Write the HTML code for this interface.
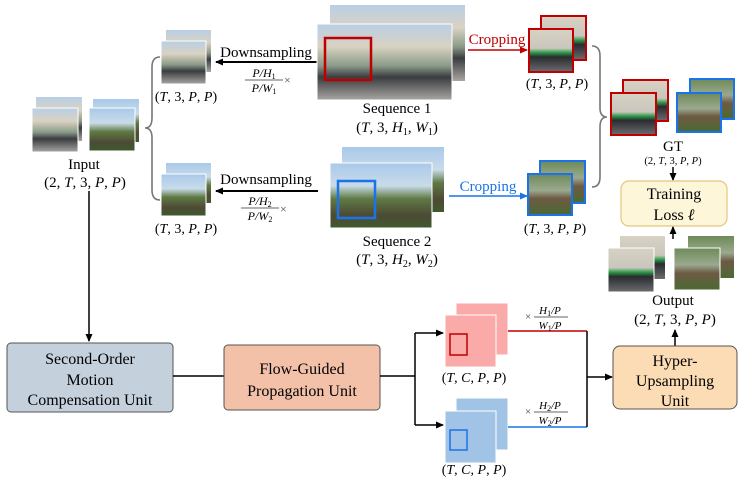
<!DOCTYPE html>
<html><head><meta charset="utf-8"><style>
body{margin:0;background:#fff}
svg{display:block;font-family:"Liberation Serif",serif}
.m{font-style:italic}
</style></head><body>
<svg width="747" height="490" viewBox="0 0 747 490" xmlns="http://www.w3.org/2000/svg">
<defs>
<linearGradient id="c" x1="0" y1="0" x2="0" y2="1">
<stop offset="0" stop-color="#b9cfe6"/><stop offset=".3" stop-color="#d9d2c2"/><stop offset=".55" stop-color="#8a9a88"/><stop offset=".7" stop-color="#3a3c40"/><stop offset="1" stop-color="#a9a6a2"/></linearGradient>
<linearGradient id="n" x1="0" y1="0" x2="0" y2="1">
<stop offset="0" stop-color="#a9c9ea"/><stop offset=".35" stop-color="#c9dbe9"/><stop offset=".55" stop-color="#5f7a45"/><stop offset=".8" stop-color="#4d4a35"/><stop offset="1" stop-color="#3f5a2e"/></linearGradient>
<linearGradient id="cc" x1="0" y1="0" x2="0" y2="1">
<stop offset="0" stop-color="#d8d2c4"/><stop offset=".45" stop-color="#c9c6bd"/><stop offset=".55" stop-color="#2c9a48"/><stop offset=".65" stop-color="#2a2c30"/><stop offset="1" stop-color="#6b6c6e"/></linearGradient>
<linearGradient id="nc" x1="0" y1="0" x2="0" y2="1">
<stop offset="0" stop-color="#6e8a58"/><stop offset=".4" stop-color="#9aa98f"/><stop offset=".6" stop-color="#6e5a44"/><stop offset="1" stop-color="#4a6a32"/></linearGradient>
<marker id="a" markerWidth="8" markerHeight="8" refX="7" refY="4" orient="auto" markerUnits="userSpaceOnUse"><path d="M0,0.5 L8,4 L0,7.5z" fill="#000"/></marker>
<marker id="ar" markerWidth="8" markerHeight="8" refX="7" refY="4" orient="auto" markerUnits="userSpaceOnUse"><path d="M0,0.5 L8,4 L0,7.5z" fill="#c00000"/></marker>
<marker id="ab" markerWidth="8" markerHeight="8" refX="7" refY="4" orient="auto" markerUnits="userSpaceOnUse"><path d="M0,0.5 L8,4 L0,7.5z" fill="#1a73e8"/></marker>
</defs>

<rect x="36" y="97" width="46" height="44" fill="url(#c)"/>
<rect x="32" y="108" width="46" height="44" fill="url(#c)" stroke="#fff"/>
<rect x="93" y="99" width="46" height="43" fill="url(#n)"/>
<rect x="89" y="108" width="46" height="43" fill="url(#n)" stroke="#fff"/>
<text x="84" y="169" font-size="15" text-anchor="middle">Input</text>
<text x="85" y="187" font-size="15" text-anchor="middle">(2, <tspan class="m">T</tspan>, 3, <tspan class="m">P</tspan>, <tspan class="m">P</tspan>)</text>
<line x1="89" y1="191" x2="89" y2="341" stroke="#000" stroke-width="1.5" marker-end="url(#a)"/>

<path d="M160,57 Q152,57 152,67 L152,118 Q152,128 145,128 Q152,128 152,138 L152,190 Q152,200 160,200" fill="none" stroke="#777" stroke-width="1.6"/>

<rect x="166" y="30" width="45" height="42" fill="url(#c)"/>
<rect x="161" y="41" width="45" height="43" fill="url(#c)" stroke="#fff"/>
<text x="186" y="101" font-size="14" text-anchor="middle">(<tspan class="m">T</tspan>, 3, <tspan class="m">P</tspan>, <tspan class="m">P</tspan>)</text>
<rect x="166" y="163" width="45" height="40" fill="url(#n)"/>
<rect x="161" y="174" width="45" height="42" fill="url(#n)" stroke="#fff"/>
<text x="186" y="233" font-size="14" text-anchor="middle">(<tspan class="m">T</tspan>, 3, <tspan class="m">P</tspan>, <tspan class="m">P</tspan>)</text>

<text x="266" y="57" font-size="15" text-anchor="middle">Downsampling</text>
<line x1="317" y1="62" x2="216" y2="62" stroke="#000" stroke-width="2" marker-end="url(#a)"/>
<text x="264" y="77" font-size="12" text-anchor="middle" class="m">P/H<tspan font-size="8" font-style="normal" dy="2">1</tspan></text>
<line x1="245" y1="80" x2="283" y2="80" stroke="#333" stroke-width=".7"/>
<text x="264" y="92" font-size="12" text-anchor="middle" class="m">P/W<tspan font-size="8" font-style="normal" dy="2">1</tspan></text>
<text x="284" y="84" font-size="12" fill="#444">×</text>
<text x="266" y="184" font-size="15" text-anchor="middle">Downsampling</text>
<line x1="318" y1="191" x2="216" y2="191" stroke="#000" stroke-width="2" marker-end="url(#a)"/>
<text x="260" y="205" font-size="12" text-anchor="middle" class="m">P/H<tspan font-size="8" font-style="normal" dy="2">2</tspan></text>
<line x1="241" y1="208" x2="279" y2="208" stroke="#333" stroke-width=".7"/>
<text x="260" y="220" font-size="12" text-anchor="middle" class="m">P/W<tspan font-size="8" font-style="normal" dy="2">2</tspan></text>
<text x="280" y="213" font-size="12" fill="#444">×</text>

<rect x="330" y="5" width="135" height="76" fill="url(#c)"/>
<rect x="317" y="24" width="135" height="76" fill="url(#c)" stroke="#fff"/>
<rect x="325" y="38" width="46" height="42" fill="none" stroke="#c00000" stroke-width="2.5"/>
<text x="397" y="113" font-size="15" text-anchor="middle">Sequence 1</text>
<text x="397" y="132" font-size="15" text-anchor="middle">(<tspan class="m">T</tspan>, 3, <tspan class="m">H</tspan><tspan font-size="10" dy="3">1</tspan><tspan dy="-3">, </tspan><tspan class="m">W</tspan><tspan font-size="10" dy="3">1</tspan><tspan dy="-3">)</tspan></text>
<rect x="342" y="147" width="102" height="65" fill="url(#n)"/>
<rect x="330" y="163" width="102" height="65" fill="url(#n)" stroke="#fff"/>
<rect x="338" y="181" width="37" height="37" fill="none" stroke="#1a73e8" stroke-width="2.5"/>
<text x="397" y="246" font-size="15" text-anchor="middle">Sequence 2</text>
<text x="397" y="264" font-size="15" text-anchor="middle">(<tspan class="m">T</tspan>, 3, <tspan class="m">H</tspan><tspan font-size="10" dy="3">2</tspan><tspan dy="-3">, </tspan><tspan class="m">W</tspan><tspan font-size="10" dy="3">2</tspan><tspan dy="-3">)</tspan></text>

<text x="497" y="44" font-size="15" text-anchor="middle" fill="#c00000">Cropping</text>
<line x1="468" y1="50" x2="527" y2="50" stroke="#c00000" stroke-width="1.5" marker-end="url(#ar)"/>
<text x="488" y="191" font-size="15" text-anchor="middle" fill="#1a73e8">Cropping</text>
<line x1="449" y1="196" x2="527" y2="196" stroke="#1a73e8" stroke-width="1.5" marker-end="url(#ab)"/>
<rect x="541" y="16" width="45" height="44" fill="url(#cc)" stroke="#c00000" stroke-width="2"/>
<rect x="529" y="29" width="44" height="43" fill="url(#cc)" stroke="#c00000" stroke-width="2"/>
<text x="557" y="88" font-size="14" text-anchor="middle">(<tspan class="m">T</tspan>, 3, <tspan class="m">P</tspan>, <tspan class="m">P</tspan>)</text>
<rect x="540" y="161" width="45" height="42" fill="url(#nc)" stroke="#1a73e8" stroke-width="2"/>
<rect x="528" y="174" width="44" height="41" fill="url(#nc)" stroke="#1a73e8" stroke-width="2"/>
<text x="555" y="233" font-size="14" text-anchor="middle">(<tspan class="m">T</tspan>, 3, <tspan class="m">P</tspan>, <tspan class="m">P</tspan>)</text>

<path d="M592,46 Q600,46 600,56 L600,108 Q600,117 607,117 Q600,117 600,127 L600,177 Q600,187 592,187" fill="none" stroke="#777" stroke-width="1.6"/>

<rect x="623" y="80" width="45" height="41" fill="url(#cc)" stroke="#c00000" stroke-width="2"/>
<rect x="611" y="93" width="45" height="42" fill="url(#cc)" stroke="#c00000" stroke-width="2"/>
<rect x="690" y="79" width="44" height="40" fill="url(#nc)" stroke="#1a73e8" stroke-width="2"/>
<rect x="677" y="93" width="44" height="39" fill="url(#nc)" stroke="#1a73e8" stroke-width="2"/>
<text x="673" y="151" font-size="15" text-anchor="middle">GT</text>
<text x="673" y="164" font-size="10.5" text-anchor="middle">(2, <tspan class="m">T</tspan>, 3, <tspan class="m">P</tspan>, <tspan class="m">P</tspan>)</text>
<line x1="673" y1="167" x2="673" y2="180" stroke="#000" stroke-width="1.5" marker-end="url(#a)"/>
<rect x="621" y="181" width="106" height="45" rx="8" fill="#fdf6d8" stroke="#e2c77c" stroke-width="1.2"/>
<text x="674" y="199" font-size="16" text-anchor="middle">Training</text>
<text x="674" y="220" font-size="16" text-anchor="middle">Loss <tspan class="m">ℓ</tspan></text>
<line x1="673" y1="239" x2="673" y2="227" stroke="#000" stroke-width="1.5" marker-end="url(#a)"/>

<rect x="620" y="236" width="45" height="43" fill="url(#cc)"/>
<rect x="608" y="248" width="46" height="44" fill="url(#cc)" stroke="#fff"/>
<rect x="688" y="236" width="46" height="42" fill="url(#nc)"/>
<rect x="674" y="248" width="46" height="42" fill="url(#nc)" stroke="#fff"/>
<text x="673" y="305" font-size="15" text-anchor="middle">Output</text>
<text x="675" y="324" font-size="15" text-anchor="middle">(2, <tspan class="m">T</tspan>, 3, <tspan class="m">P</tspan>, <tspan class="m">P</tspan>)</text>
<line x1="675" y1="346" x2="675" y2="330" stroke="#000" stroke-width="1.5" marker-end="url(#a)"/>

<rect x="7" y="343" width="166" height="69" rx="4" fill="#c5d0dd" stroke="#555" stroke-width="1"/>
<text x="90" y="364" font-size="16" text-anchor="middle">Second-Order</text>
<text x="90" y="385" font-size="16" text-anchor="middle">Motion</text>
<text x="90" y="405" font-size="16" text-anchor="middle">Compensation Unit</text>
<line x1="173" y1="376" x2="224" y2="376" stroke="#000" stroke-width="1.5"/>
<rect x="224" y="345" width="156" height="65" rx="4" fill="#f3c0a8" stroke="#555" stroke-width="1"/>
<text x="302" y="374" font-size="16" text-anchor="middle">Flow-Guided</text>
<text x="302" y="396" font-size="16" text-anchor="middle">Propagation Unit</text>
<path d="M380,376 H415 M415,333 V425" stroke="#000" stroke-width="1.5" fill="none"/>
<line x1="415" y1="333" x2="443" y2="333" stroke="#000" stroke-width="1.5" marker-end="url(#a)"/>
<line x1="415" y1="425" x2="443" y2="425" stroke="#000" stroke-width="1.5" marker-end="url(#a)"/>

<rect x="456" y="303" width="52" height="52" fill="#fbaaaa" stroke="#fff"/>
<rect x="445" y="315" width="51" height="52" fill="#fbaaaa" stroke="#fff"/>
<rect x="450" y="334" width="17" height="21" fill="none" stroke="#c00000" stroke-width="1.5"/>
<text x="474" y="382" font-size="14" text-anchor="middle">(<tspan class="m">T</tspan>, <tspan class="m">C</tspan>, <tspan class="m">P</tspan>, <tspan class="m">P</tspan>)</text>
<rect x="456" y="398" width="52" height="52" fill="#a0c3e6" stroke="#fff"/>
<rect x="445" y="411" width="51" height="52" fill="#a0c3e6" stroke="#fff"/>
<rect x="450" y="430" width="17" height="20" fill="none" stroke="#1a73e8" stroke-width="1.5"/>
<text x="474" y="474" font-size="14" text-anchor="middle">(<tspan class="m">T</tspan>, <tspan class="m">C</tspan>, <tspan class="m">P</tspan>, <tspan class="m">P</tspan>)</text>

<line x1="508" y1="331" x2="587" y2="331" stroke="#c00000" stroke-width="1.5"/>
<line x1="508" y1="427" x2="587" y2="427" stroke="#1a73e8" stroke-width="1.5"/>
<line x1="587" y1="331" x2="587" y2="427" stroke="#000" stroke-width="1.5"/>
<line x1="587" y1="377" x2="612" y2="377" stroke="#000" stroke-width="1.5" marker-end="url(#a)"/>
<text x="525" y="320" font-size="11" fill="#444">×</text>
<text x="550" y="314" font-size="11" text-anchor="middle" class="m">H<tspan font-size="8" font-style="normal" dy="2">1</tspan><tspan dy="-2">/P</tspan></text>
<line x1="534" y1="317" x2="568" y2="317" stroke="#333" stroke-width=".7"/>
<text x="550" y="329" font-size="11" text-anchor="middle" class="m">W<tspan font-size="8" font-style="normal" dy="2">1</tspan><tspan dy="-2">/P</tspan></text>
<text x="525" y="415" font-size="11" fill="#444">×</text>
<text x="550" y="409" font-size="11" text-anchor="middle" class="m">H<tspan font-size="8" font-style="normal" dy="2">2</tspan><tspan dy="-2">/P</tspan></text>
<line x1="534" y1="412" x2="568" y2="412" stroke="#333" stroke-width=".7"/>
<text x="550" y="424" font-size="11" text-anchor="middle" class="m">W<tspan font-size="8" font-style="normal" dy="2">2</tspan><tspan dy="-2">/P</tspan></text>

<rect x="613" y="346" width="124" height="63" rx="7" fill="#fcdcb4" stroke="#555" stroke-width="1"/>
<text x="675" y="366" font-size="16" text-anchor="middle">Hyper-</text>
<text x="675" y="386" font-size="16" text-anchor="middle">Upsampling</text>
<text x="675" y="406" font-size="16" text-anchor="middle">Unit</text>
</svg>
</body></html>
